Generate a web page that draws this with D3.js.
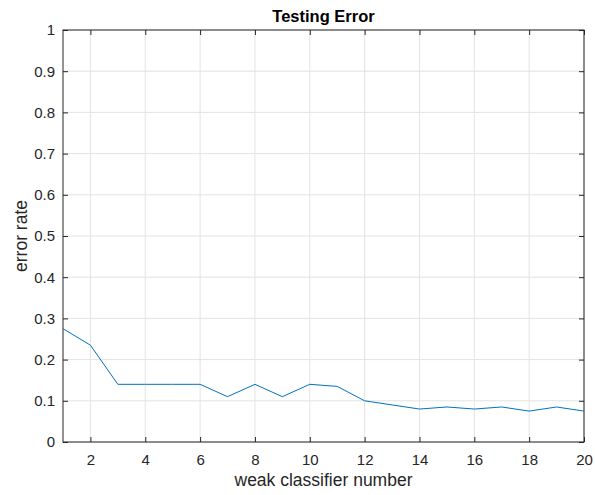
<!DOCTYPE html>
<html>
<head>
<meta charset="utf-8">
<script src="https://cdn.jsdelivr.net/npm/d3@7"></script>
<style>
  body { margin: 0; background: #fff; }
  text { font-family: "Liberation Sans", Arial, sans-serif; }
</style>
</head>
<body>
<script>
'use strict';

// weak classifier count vs testing error
const classifierNum = [1, 2, 3, 4, 5, 6, 7, 8, 9, 10, 11, 12, 13, 14, 15, 16, 17, 18, 19, 20];
const errorRate = [0.275, 0.235, 0.14, 0.14, 0.14, 0.14, 0.11, 0.14, 0.11, 0.14,
                   0.135, 0.1, 0.09, 0.08, 0.085, 0.08, 0.085, 0.075, 0.085, 0.075];
const xTicks = [2, 4, 6, 8, 10, 12, 14, 16, 18, 20];
const yTicks = [0, 0.1, 0.2, 0.3, 0.4, 0.5, 0.6, 0.7, 0.8, 0.9, 1];

const m = { width: 595, height: 495, left: 63, right: 584, top: 30, bottom: 442 };

const svg = d3.select('body')
  .append('svg')
  .attr('width', m.width)
  .attr('height', m.height);

const xScale = d3.scaleLinear().domain([1, 20]).range([m.left, m.right]);
const yScale = d3.scaleLinear().domain([0, 1]).range([m.bottom, m.top]);

// grid lines
svg.append('g')
  .selectAll('line')
  .data(xTicks)
  .enter()
  .append('line')
  .attr('x1', d => xScale(d)).attr('x2', d => xScale(d))
  .attr('y1', m.top).attr('y2', m.bottom)
  .attr('stroke', '#e3e3e3');

svg.append('g')
  .selectAll('line')
  .data(yTicks)
  .enter()
  .append('line')
  .attr('x1', m.left).attr('x2', m.right)
  .attr('y1', d => yScale(d)).attr('y2', d => yScale(d))
  .attr('stroke', '#e3e3e3');

// axes, ticks pointing inward
const fmt = d => d3.format('~g')(d);
function styleAxis(g) {
  g.select('.domain').remove();
  g.selectAll('line').attr('stroke', '#262626');
  g.selectAll('text')
    .attr('fill', '#262626')
    .style('font-size', '15px');
}

svg.append('g')
  .attr('transform', 'translate(0,' + m.bottom + ')')
  .call(d3.axisBottom(xScale).tickValues(xTicks).tickSizeInner(-5).tickSizeOuter(0).tickPadding(12).tickFormat(fmt))
  .call(styleAxis);

svg.append('g')
  .attr('transform', 'translate(0,' + m.top + ')')
  .call(d3.axisTop(xScale).tickValues(xTicks).tickSizeInner(-5).tickSizeOuter(0).tickFormat(''))
  .call(styleAxis);

svg.append('g')
  .attr('transform', 'translate(' + m.left + ',0)')
  .call(d3.axisLeft(yScale).tickValues(yTicks).tickSizeInner(-5).tickSizeOuter(0).tickPadding(8).tickFormat(fmt))
  .call(styleAxis);

svg.append('g')
  .attr('transform', 'translate(' + m.right + ',0)')
  .call(d3.axisRight(yScale).tickValues(yTicks).tickSizeInner(-5).tickSizeOuter(0).tickFormat(''))
  .call(styleAxis);

// box
svg.append('rect')
  .attr('x', m.left).attr('y', m.top)
  .attr('width', m.right - m.left).attr('height', m.bottom - m.top)
  .attr('fill', 'none')
  .attr('stroke', '#262626')
  .attr('stroke-width', 1);

// data line
const line = d3.line()
  .x((d, i) => xScale(classifierNum[i]))
  .y(d => yScale(d));

svg.append('path')
  .datum(errorRate)
  .attr('d', line)
  .attr('fill', 'none')
  .attr('stroke', '#0072BD')
  .attr('stroke-width', 1);

// labels
svg.append('text')
  .attr('x', (m.left + m.right) / 2)
  .attr('y', 22)
  .attr('text-anchor', 'middle')
  .style('font-size', '16.5px')
  .style('font-weight', 'bold')
  .attr('fill', '#000')
  .text('Testing Error');

svg.append('text')
  .attr('x', (m.left + m.right) / 2)
  .attr('y', 486)
  .attr('text-anchor', 'middle')
  .style('font-size', '17.5px')
  .attr('fill', '#262626')
  .text('weak classifier number');

svg.append('text')
  .attr('transform', 'translate(27,' + ((m.top + m.bottom) / 2) + ')rotate(-90)')
  .attr('text-anchor', 'middle')
  .style('font-size', '17.5px')
  .attr('fill', '#262626')
  .text('error rate');
</script>
</body>
</html>
